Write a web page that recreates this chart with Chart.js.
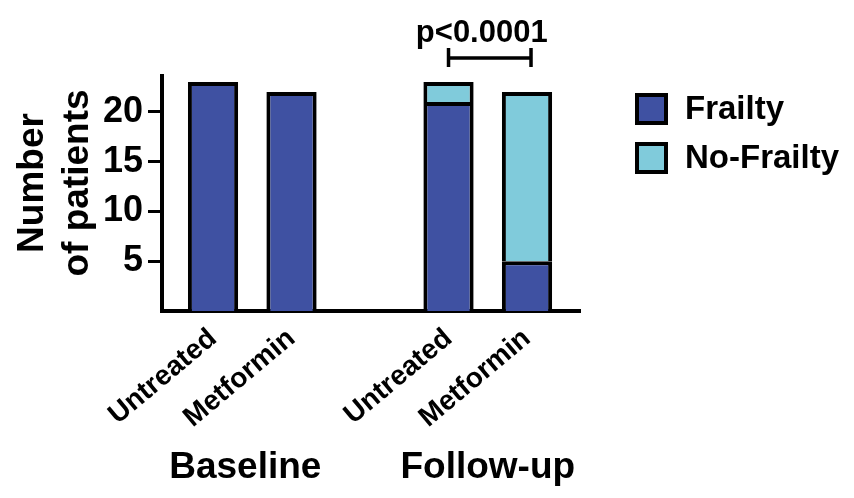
<!DOCTYPE html>
<html>
<head>
<meta charset="utf-8">
<script src="https://cdn.jsdelivr.net/npm/chart.js@4.4.1/dist/chart.umd.min.js"></script>
<style>
  html, body { margin: 0; padding: 0; background: #ffffff; }
  #wrap { width: 854px; height: 498px; position: relative; }
</style>
</head>
<body>
<div id="wrap"><canvas id="c" width="854" height="498"></canvas></div>
<script>
// ---- data ----
const categories = ['Untreated', 'Metformin', 'Untreated', 'Metformin'];
const slotIndex = [0, 1, 3, 4];            // category slots (slot 2 is the gap between groups)
const frailty = [23, 22, 21, 5];
const noFrailty = [0, 0, 2, 17];
const seriesNames = ['Frailty', 'No-Frailty'];
const groupNames = ['Baseline', 'Follow-up'];
const groupSlots = [[0, 1], [3, 4]];
const yTicks = [5, 10, 15, 20];
const yTitle = ['Number', 'of patients'];
const pLabel = 'p<0.0001';
const pPair = [3, 4];

const colFrailty = '#3f51a2';
const colNoFrailty = '#80cbdb';
const FONT = '"Liberation Sans", Arial, Helvetica, sans-serif';

const toPts = (vals) => vals.map((v, i) => ({ x: slotIndex[i], y: v }));

const overlay = {
  id: 'overlay',
  afterDraw(chart) {
    const ctx = chart.ctx;
    const xs = chart.scales.x;
    ctx.save();
    ctx.fillStyle = '#000';
    ctx.strokeStyle = '#000';

    // y axis title (two lines, rotated)
    ctx.font = 'bold 37px ' + FONT;
    ctx.textAlign = 'center';
    ctx.textBaseline = 'alphabetic';
    const titleX = [43, 88];
    yTitle.forEach((t, i) => {
      ctx.save();
      ctx.translate(titleX[i], 183);
      ctx.rotate(-Math.PI / 2);
      ctx.fillText(t, 0, 0);
      ctx.restore();
    });

    // group labels
    ctx.font = 'bold 37px ' + FONT;
    groupNames.forEach((g, i) => {
      const a = xs.getPixelForValue(groupSlots[i][0]);
      const b = xs.getPixelForValue(groupSlots[i][1]);
      ctx.fillText(g, (a + b) / 2 - (i === 0 ? 7 : 0), 478);
    });

    // significance bracket
    const p1 = xs.getPixelForValue(pPair[0]);
    const p2 = xs.getPixelForValue(pPair[1]) + 4;
    ctx.lineWidth = 3.5;
    ctx.beginPath();
    ctx.moveTo(p1, 58); ctx.lineTo(p2, 58);
    ctx.moveTo(p1, 48); ctx.lineTo(p1, 67);
    ctx.moveTo(p2, 48); ctx.lineTo(p2, 67);
    ctx.stroke();
    ctx.font = 'bold 31px ' + FONT;
    ctx.fillText(pLabel, (p1 + p2) / 2 - 8, 42);

    // legend
    const ds = chart.data.datasets;
    ctx.textAlign = 'left';
    ctx.font = 'bold 33px ' + FONT;
    const legTop = [93, 142];
    ds.forEach((d, i) => {
      const y = legTop[i];
      ctx.fillStyle = d.backgroundColor;
      ctx.fillRect(635, y, 33, 32);
      ctx.lineWidth = 4;
      ctx.strokeStyle = '#000';
      ctx.strokeRect(637, y + 2, 29, 28);
      ctx.fillStyle = '#000';
      ctx.fillText(d.label, 685, y + 26);
    });
    ctx.restore();
  }
};

new Chart(document.getElementById('c'), {
  type: 'bar',
  data: {
    datasets: [
      { label: seriesNames[0], data: toPts(frailty), backgroundColor: colFrailty },
      { label: seriesNames[1], data: toPts(noFrailty), backgroundColor: colNoFrailty }
    ]
  },
  options: {
    responsive: false,
    animation: false,
    devicePixelRatio: 1,
    layout: { padding: { top: 76, right: 274, left: 0, bottom: 0 } },
    datasets: {
      bar: {
        borderColor: '#000',
        borderWidth: 4,
        borderSkipped: 'start',
        categoryPercentage: 1,
        barPercentage: 0.64
      }
    },
    plugins: {
      legend: { display: false },
      tooltip: { enabled: false }
    },
    scales: {
      x: {
        type: 'linear',
        stacked: true,
        min: -0.65,
        max: 4.675,
        offset: false,
        afterBuildTicks(axis) { axis.ticks = slotIndex.map(v => ({ value: v })); },
        afterFit(axis) { axis.height = 187; },
        grid: { display: false },
        border: { display: true, color: '#000', width: 4 },
        ticks: {
          autoSkip: false,
          minRotation: 40,
          maxRotation: 40,
          padding: 3,
          color: '#000',
          font: { family: FONT, size: 28, weight: 'bold' },
          callback: (v) => { const k = slotIndex.indexOf(v); return k >= 0 ? categories[k] : ''; }
        }
      },
      y: {
        stacked: true,
        min: 0,
        max: 23.6,
        afterBuildTicks(axis) { axis.ticks = yTicks.map(v => ({ value: v })); },
        afterFit(axis) { axis.width = 162; },
        grid: { drawOnChartArea: false, drawTicks: true, tickLength: 14, tickWidth: 3, tickColor: '#000' },
        border: { display: true, color: '#000', width: 4 },
        ticks: {
          padding: 5,
          color: '#000',
          font: { family: FONT, size: 36, weight: 'bold' }
        }
      }
    }
  },
  plugins: [overlay]
});
</script>
</body>
</html>
